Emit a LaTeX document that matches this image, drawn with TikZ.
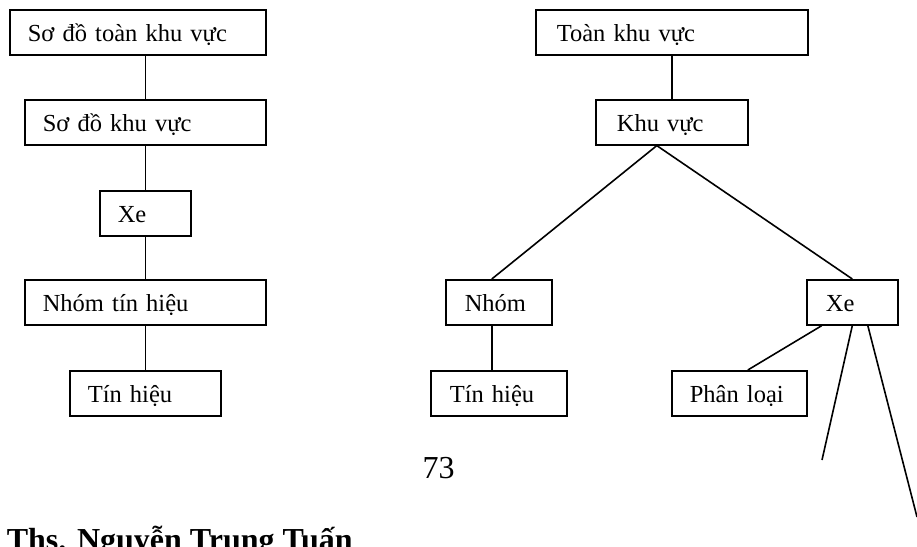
\documentclass[tikz,border=0pt]{standalone}
\usepackage{fontspec}
\setmainfont{Liberation Serif}
\begin{document}
\begin{tikzpicture}[x=1pt,y=-1pt,
  line width=1.6pt,
  box/.style={draw, line width=1.6pt, anchor=north west, align=left,
    inner xsep=18pt, inner ysep=0pt, minimum height=45pt,
    text height=22pt, text depth=3pt,
    font=\fontsize{24.5}{29}\selectfont},
  link/.style={line width=1.6pt}]
\useasboundingbox (0,0) rectangle (917,546);

% left-hand chain
\node[box, text width=220pt] (l1) at (9,9)   {Sơ đồ toàn khu vực};
\node[box, text width=205pt] (l2) at (24,99) {Sơ đồ khu vực};
\node[box, text width=55pt]  (l3) at (99,190) {Xe};
\node[box, text width=205pt] (l4) at (24,279) {Nhóm tín hiệu};
\node[box, text width=115pt] (l5) at (69,370) {Tín hiệu};

\draw[link] (l2.north) -- (l2.north |- l1.south);
\draw[link] (l2.south) -- (l3.north);
\draw[link] (l3.south) -- (l4.north);
\draw[link] (l4.south) -- (l5.north);

% right-hand tree
\node[box, text width=230pt, inner xsep=21pt] (r1) at (535,9)  {Toàn khu vực};
\node[box, text width=110pt, inner xsep=21pt] (r2) at (595,99) {Khu vực};
\node[box, text width=68pt, inner xsep=19pt]  (r3) at (445,279) {Nhóm};
\node[box, text width=98pt, inner xsep=19pt]  (r4) at (430,370) {Tín hiệu};
\node[box, text width=53pt, inner xsep=19pt]  (r5) at (806,279) {Xe};
\node[box, text width=99pt]  (r6) at (671,370) {Phân loại};

\coordinate (open1) at (822,460);
\coordinate (open2) at (917,517);

\draw[link] (r1.south) -- (r2.north);
\draw[link] ([xshift=-15pt]r2.south) -- ([xshift=-7pt]r3.north);
\draw[link] ([xshift=-15pt]r2.south) -- (r5.north);
\draw[link] ([xshift=-7pt]r3.south) -- ([xshift=-7pt]r3.south |- r4.north);
\draw[link] ([xshift=-30.5pt]r5.south) -- ([xshift=8.5pt]r6.north);
\draw[link] (r5.south) -- (open1);
\draw[link] ([xshift=15.5pt]r5.south) -- (open2);

% page number and footer
\node[anchor=base, inner sep=0pt, font=\fontsize{32}{38}\selectfont] (page) at (438.5,478) {73};
\node[anchor=base west, inner sep=0pt, font=\fontsize{32}{38}\selectfont\bfseries] (author) at (6,550) {Ths. Nguyễn Trung Tuấn};
\end{tikzpicture}
\end{document}
